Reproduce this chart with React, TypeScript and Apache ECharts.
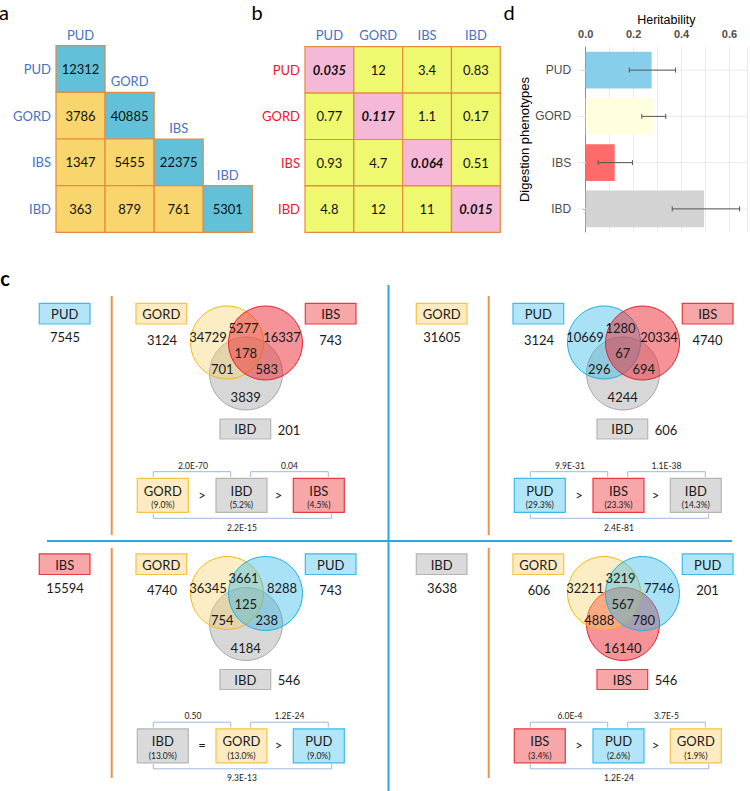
import React, { useEffect, useRef } from "react";
import * as echarts from "echarts";

// ---------- DATA ----------
const phenotypes = ["PUD", "GORD", "IBS", "IBD"];
// panel a: shared loci (lower triangle, rows)
const sharedLoci = [[12312], [3786, 40885], [1347, 5455, 22375], [363, 879, 761, 5301]];
// panel b: matrix values
const ratioMatrix = [
  ["0.035", "12", "3.4", "0.83"],
  ["0.77", "0.117", "1.1", "0.17"],
  ["0.93", "4.7", "0.064", "0.51"],
  ["4.8", "12", "11", "0.015"],
];
// panel d: heritability
const heritability = [0.275, 0.281, 0.121, 0.494];
const heritLow = [0.182, 0.234, 0.052, 0.361];
const heritHigh = [0.375, 0.334, 0.195, 0.642];
const heritTicks = ["0.0", "0.2", "0.4", "0.6"];

// panel c
const focusNames = ["PUD", "GORD", "IBS", "IBD"];
const focusCounts = [7545, 31605, 15594, 3638];
const vennSets = [
  ["GORD", "IBS", "IBD"],
  ["PUD", "IBS", "IBD"],
  ["GORD", "PUD", "IBD"],
  ["GORD", "PUD", "IBS"],
];
const vennSetCounts = [
  [3124, 743, 201],
  [3124, 4740, 606],
  [4740, 743, 546],
  [606, 201, 546],
];
// order: A only, A∩B, B only, A∩B∩C, A∩C, B∩C, C only
const vennRegionCounts = [
  [34729, 5277, 16337, 178, 701, 583, 3839],
  [10669, 1280, 20334, 67, 296, 694, 4244],
  [36345, 3661, 8288, 125, 754, 238, 4184],
  [32211, 3219, 7746, 567, 4888, 780, 16140],
];
const rankNames = [
  ["GORD", "IBD", "IBS"],
  ["PUD", "IBS", "IBD"],
  ["IBD", "GORD", "PUD"],
  ["IBS", "PUD", "GORD"],
];
const rankPcts = [
  ["9.0%", "5.2%", "4.5%"],
  ["29.3%", "23.3%", "14.3%"],
  ["13.0%", "13.0%", "9.0%"],
  ["3.4%", "2.6%", "1.9%"],
];
const rankOps = [
  [">", ">"],
  [">", ">"],
  ["=", ">"],
  [">", ">"],
];
const rankPvals = [
  ["2.0E-70", "0.04", "2.2E-15"],
  ["9.9E-31", "1.1E-38", "2.4E-81"],
  ["0.50", "1.2E-24", "9.3E-13"],
  ["6.0E-4", "3.7E-5", "1.2E-24"],
];

// ---------- STYLE ----------
const FONT = 'Lato, "Open Sans", sans-serif';
const GG_FONT = '"Liberation Sans", Arial, sans-serif';
const LABEL_BLUE = "#4472C4";
const LABEL_RED = "#F0141E";
const CELL_BORDER = "#E58A3E";

const boxStyle: Record<string, { fill: string; stroke: string }> = {
  PUD: { fill: "#B3E5F8", stroke: "#3CBBEA" },
  GORD: { fill: "#FEEBC1", stroke: "#F6C343" },
  IBS: { fill: "#F8A7A9", stroke: "#E83A40" },
  IBD: { fill: "#DADADA", stroke: "#B5B5B5" },
};
const vennStyle: Record<string, { fill: string; stroke: string }> = {
  PUD: { fill: "rgba(41,182,232,0.40)", stroke: "#1FB0E6" },
  GORD: { fill: "rgba(249,208,100,0.38)", stroke: "#F5B90F" },
  IBS: { fill: "rgba(235,40,50,0.50)", stroke: "#E8202A" },
  IBD: { fill: "rgba(160,160,160,0.42)", stroke: "#A8A8A8" },
};
const heritColors = ["#87CEEB", "#FFFFE0", "#FF6A6A", "#D3D3D3"];

// ---------- PANEL C builder ----------
const Q_DX = [0, 377, 0, 377];
const Q_DY = [0, 0, 250.5, 250.5];

function txt(x: number, y: number, text: string, size: number, extra: any = {}) {
  return {
    type: "text",
    x,
    y,
    silent: true,
    style: {
      text,
      fill: "#1a1a1a",
      fontSize: size,
      fontFamily: FONT,
      align: "center",
      verticalAlign: "middle",
      ...extra,
    },
  };
}
function box(x: number, y: number, w: number, h: number, name: string) {
  return {
    type: "rect",
    silent: true,
    shape: { x, y, width: w, height: h },
    style: { fill: boxStyle[name].fill, stroke: boxStyle[name].stroke, lineWidth: 1.2 },
  };
}

function buildPanelC() {
  const els: any[] = [];
  // dividers
  els.push({ type: "line", shape: { x1: 388.5, y1: 285, x2: 388.5, y2: 791 }, style: { stroke: "#27A9E1", lineWidth: 2 } });
  els.push({ type: "line", shape: { x1: 47, y1: 541, x2: 732, y2: 541 }, style: { stroke: "#27A9E1", lineWidth: 2 } });
  for (let q = 0; q < 4; q++) {
    const dx = Q_DX[q];
    const dy = Q_DY[q];
    const y0 = q < 2 ? 296 : 297.5;
    els.push({ type: "line", shape: { x1: 111.7 + dx, y1: y0 + dy, x2: 111.7 + dx, y2: 535 + dy - (q < 2 ? 0 : 7.5) }, style: { stroke: "#F0904A", lineWidth: 2 } });
    // focus
    els.push(box(39.3 + dx, 303.3 + dy, 50.7, 20.7, focusNames[q]));
    els.push(txt(64.7 + dx, 314 + dy, focusNames[q], 13));
    els.push(txt(65 + dx, 337 + dy, String(focusCounts[q]), 13));
    // venn set boxes
    const [A, B, C] = vennSets[q];
    const [ca, cb, cc] = vennSetCounts[q];
    els.push(box(136 + dx, 303.3 + dy, 50.7, 20.7, A));
    els.push(txt(161.3 + dx, 314 + dy, A, 13));
    els.push(txt(162 + dx, 339.5 + dy, String(ca), 13));
    els.push(box(305.3 + dx, 303.3 + dy, 50.7, 20.7, B));
    els.push(txt(330.7 + dx, 314 + dy, B, 13));
    els.push(txt(330.5 + dx, 339.5 + dy, String(cb), 13));
    els.push(box(220 + dx, 419 + dy, 50.7, 20, C));
    els.push(txt(245.3 + dx, 429 + dy, C, 13));
    els.push(txt(289 + dx, 429.5 + dy, String(cc), 13));
    // circles: C first, then A, then B
    els.push({ type: "circle", silent: true, shape: { cx: 246 + dx, cy: 373.5 + dy, r: 36.5 }, style: { fill: vennStyle[C].fill, stroke: vennStyle[C].stroke, lineWidth: 1 } });
    els.push({ type: "circle", silent: true, shape: { cx: 227 + dx, cy: 342.5 + dy, r: 36.5 }, style: { fill: vennStyle[A].fill, stroke: vennStyle[A].stroke, lineWidth: 1 } });
    els.push({ type: "circle", silent: true, shape: { cx: 265.5 + dx, cy: 343 + dy, r: 37 }, style: { fill: vennStyle[B].fill, stroke: vennStyle[B].stroke, lineWidth: 1 } });
    const regionPos = [
      [208, 337],
      [243.5, 327.5],
      [282, 337],
      [245.7, 353],
      [222.3, 369],
      [266.7, 369],
      [245.7, 397],
    ];
    vennRegionCounts[q].forEach((v, i) => {
      els.push(txt(regionPos[i][0] + dx, regionPos[i][1] + dy, String(v), 13));
    });
    // ranking
    const bx = [137.3, 216, 293.3];
    bx.forEach((x, i) => {
      const name = rankNames[q][i];
      els.push(box(x + dx, 478.3 + dy, 51, 34, name));
      els.push(txt(x + 25.5 + dx, 490.5 + dy, name, 13));
      els.push(txt(x + 25.5 + dx, 505 + dy, "(" + rankPcts[q][i] + ")", 8.5));
    });
    [202, 278.5].forEach((x, i) => {
      els.push(txt(x + dx, 494.5 + dy, rankOps[q][i], 13));
    });
    const bc = "#9DB8E0";
    els.push({ type: "polyline", silent: true, shape: { points: [[153.3 + dx, 477 + dy], [153.3 + dx, 471.7 + dy], [230.7 + dx, 471.7 + dy], [230.7 + dx, 477 + dy]] }, style: { stroke: bc, lineWidth: 1, fill: null } });
    els.push({ type: "polyline", silent: true, shape: { points: [[250.7 + dx, 477 + dy], [250.7 + dx, 471.7 + dy], [328.3 + dx, 471.7 + dy], [328.3 + dx, 477 + dy]] }, style: { stroke: bc, lineWidth: 1, fill: null } });
    els.push({ type: "polyline", silent: true, shape: { points: [[153.3 + dx, 513.5 + dy], [153.3 + dx, 518.3 + dy], [331.7 + dx, 518.3 + dy], [331.7 + dx, 513.5 + dy]] }, style: { stroke: bc, lineWidth: 1, fill: null } });
    els.push(txt(193 + dx, 465.5 + dy, rankPvals[q][0], 8.5));
    els.push(txt(289.5 + dx, 465.5 + dy, rankPvals[q][1], 8.5));
    els.push(txt(242 + dx, 527.5 + dy, rankPvals[q][2], 8.5));
  }
  // panel letters
  els.push(txt(4, 12, "a", 20, { fill: "#000" }));
  els.push(txt(257, 12, "b", 20, { fill: "#000" }));
  els.push(txt(509, 12, "d", 20, { fill: "#000" }));
  els.push(txt(5, 278, "c", 20, { fill: "#000", fontWeight: "bold" }));
  return els;
}

// ---------- cell series ----------
function cellSeries(gridIndex: number, data: any[], opts: { diagFill: string; offFill: string; diagLabel: boolean; diagBold: boolean }) {
  return {
    type: "custom",
    xAxisIndex: gridIndex,
    yAxisIndex: gridIndex,
    silent: true,
    data,
    renderItem: (params: any, api: any) => {
      const cx = api.value(0);
      const cy = api.value(1);
      const label = data[params.dataIndex][2];
      const c = api.coord([cx, cy]);
      const s = api.size([1, 1]);
      const diag = cx === cy;
      const children: any[] = [
        {
          type: "rect",
          shape: { x: c[0] - s[0] / 2, y: c[1] - s[1] / 2, width: s[0], height: s[1] },
          style: { fill: diag ? opts.diagFill : opts.offFill, stroke: CELL_BORDER, lineWidth: 1.2 },
        },
        {
          type: "text",
          x: c[0],
          y: c[1],
          style: {
            text: String(label),
            fill: "#111",
            fontSize: 13,
            fontFamily: FONT,
            fontWeight: diag && opts.diagBold ? "bold" : "normal",
            fontStyle: diag && opts.diagBold ? "italic" : "normal",
            align: "center",
            verticalAlign: "middle",
          },
        },
      ];
      if (diag && opts.diagLabel) {
        children.push({
          type: "text",
          x: c[0],
          y: c[1] - s[1] / 2 - 11,
          style: { text: phenotypes[cx], fill: LABEL_BLUE, fontSize: 13, fontFamily: FONT, align: "center", verticalAlign: "middle" },
        });
      }
      return { type: "group", children };
    },
  };
}

function buildOption() {
  const aData: any[] = [];
  sharedLoci.forEach((row, r) => row.forEach((v, c) => aData.push([c, r, v])));
  const bData: any[] = [];
  ratioMatrix.forEach((row, r) => row.forEach((v, c) => bData.push([c, r, v])));

  return {
    animation: false,
    backgroundColor: "#fff",
    grid: [
      { left: 56, top: 45.7, width: 196.3, height: 186.6 },
      { left: 305, top: 46.7, width: 195.3, height: 185.6 },
      { left: 585.7, top: 47, width: 164.3, height: 185 },
    ],
    xAxis: [
      { gridIndex: 0, type: "category", data: phenotypes, show: false },
      {
        gridIndex: 1,
        type: "category",
        data: phenotypes,
        position: "top",
        axisLine: { show: false },
        axisTick: { show: false },
        axisLabel: { color: LABEL_BLUE, fontSize: 13, fontFamily: FONT, margin: 5, interval: 0 },
      },
      {
        gridIndex: 2,
        type: "value",
        position: "top",
        min: 0,
        max: 0.673,
        interval: 0.1,
        name: "Heritability",
        nameLocation: "middle",
        nameGap: 21,
        nameTextStyle: { color: "#000", fontSize: 12.5, fontFamily: GG_FONT },
        axisLine: { show: false },
        axisTick: { show: false },
        axisLabel: {
          color: "#4D4D4D",
          fontSize: 11,
          fontWeight: "bold",
          fontFamily: GG_FONT,
          margin: 8,
          formatter: (v: number) => {
            const k = Math.round(v * 10);
            if (Math.abs(v * 10 - k) > 1e-6 || k % 2 !== 0) return "";
            return heritTicks[k / 2] ?? "";
          },
        },
        splitLine: { show: true, lineStyle: { color: "#EBEBEB", width: 1 } },
      },
    ],
    yAxis: [
      {
        gridIndex: 0,
        type: "category",
        data: phenotypes,
        inverse: true,
        axisLine: { show: false },
        axisTick: { show: false },
        axisLabel: { color: LABEL_BLUE, fontSize: 13, fontFamily: FONT, margin: 5, interval: 0 },
      },
      {
        gridIndex: 1,
        type: "category",
        data: phenotypes,
        inverse: true,
        axisLine: { show: false },
        axisTick: { show: false },
        axisLabel: { color: LABEL_RED, fontSize: 13, fontFamily: FONT, margin: 5, interval: 0 },
      },
      {
        gridIndex: 2,
        type: "category",
        data: phenotypes,
        inverse: true,
        offset: 8.5,
        name: "Digestion phenotypes",
        nameLocation: "middle",
        nameGap: 42,
        nameRotate: 90,
        nameTextStyle: { color: "#000", fontSize: 13, fontFamily: GG_FONT },
        axisLine: { show: true, lineStyle: { color: "#8A8A8A", width: 1 } },
        axisTick: { show: true, alignWithLabel: true, length: 3, lineStyle: { color: "#8A8A8A" } },
        axisLabel: { color: "#4D4D4D", fontSize: 12, fontFamily: GG_FONT, margin: 6, interval: 0 },
      },
    ],
    series: [
      cellSeries(0, aData, { diagFill: "#62C1D9", offFill: "#F9D66D", diagLabel: true, diagBold: false }),
      cellSeries(1, bData, { diagFill: "#F5B8D6", offFill: "#EEF970", diagLabel: false, diagBold: true }),
      {
        type: "custom",
        xAxisIndex: 2,
        yAxisIndex: 2,
        silent: true,
        z: 1,
        data: phenotypes.map((_, i) => [i]),
        encode: { y: 0 },
        renderItem: (params: any, api: any) => {
          const cs = params.coordSys;
          const p = api.coord([0, api.value(0)]);
          return {
            type: "line",
            shape: { x1: cs.x - 8.5, y1: p[1], x2: cs.x + cs.width, y2: p[1] },
            style: { stroke: "#EBEBEB", lineWidth: 1 },
          };
        },
      },
      {
        type: "bar",
        xAxisIndex: 2,
        yAxisIndex: 2,
        z: 2,
        barWidth: "79%",
        silent: true,
        data: heritability.map((v, i) => ({ value: v, itemStyle: { color: heritColors[i] } })),
      },
      {
        type: "custom",
        xAxisIndex: 2,
        yAxisIndex: 2,
        z: 3,
        silent: true,
        data: phenotypes.map((_, i) => [i, heritLow[i], heritHigh[i]]),
        encode: { y: 0, x: [1, 2] },
        renderItem: (params: any, api: any) => {
          const i = api.value(0);
          const lo = api.coord([api.value(1), i]);
          const hi = api.coord([api.value(2), i]);
          const st = { stroke: "#555", lineWidth: 1 };
          return {
            type: "group",
            children: [
              { type: "line", shape: { x1: lo[0], y1: lo[1], x2: hi[0], y2: hi[1] }, style: st },
              { type: "line", shape: { x1: lo[0], y1: lo[1] - 2.5, x2: lo[0], y2: lo[1] + 2.5 }, style: st },
              { type: "line", shape: { x1: hi[0], y1: hi[1] - 2.5, x2: hi[0], y2: hi[1] + 2.5 }, style: st },
            ],
          };
        },
      },
    ],
    graphic: buildPanelC(),
  };
}

export default function App() {
  const ref = useRef<HTMLDivElement>(null);
  useEffect(() => {
    document.body.style.margin = "0";
    const chart = echarts.init(ref.current!, null, { renderer: "svg" });
    chart.setOption(buildOption() as any);
    return () => chart.dispose();
  }, []);
  return <div ref={ref} style={{ width: 750, height: 791 }} />;
}
